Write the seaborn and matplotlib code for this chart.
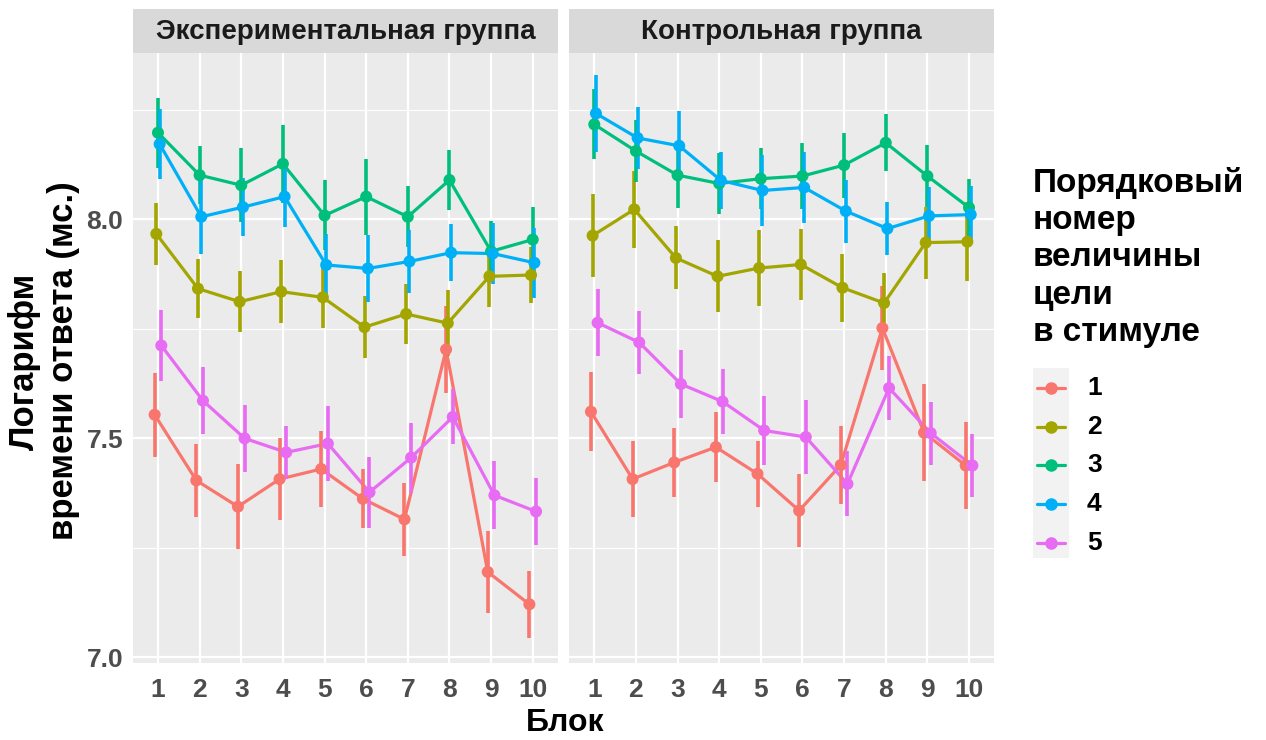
import matplotlib
matplotlib.use("Agg")
import matplotlib.pyplot as plt
from matplotlib.lines import Line2D
from matplotlib.patches import Rectangle
import pandas as pd
import seaborn as sns

# ---- data ---------------------------------------------------------------
blocks = [1, 2, 3, 4, 5, 6, 7, 8, 9, 10]
levels = ["1", "2", "3", "4", "5"]
panels = ["Экспериментальная группа", "Контрольная группа"]
palette = ["#F8766D", "#A3A500", "#00BF7D", "#00B0F6", "#E76BF3"]

# experimental group: mean log RT per block, one list per target rank
exp_mean_1 = [7.554, 7.404, 7.344, 7.407, 7.430, 7.362, 7.315, 7.703, 7.195, 7.121]
exp_mean_2 = [7.967, 7.842, 7.812, 7.835, 7.822, 7.754, 7.784, 7.763, 7.870, 7.873]
exp_mean_3 = [8.198, 8.101, 8.078, 8.127, 8.009, 8.052, 8.006, 8.090, 7.927, 7.954]
exp_mean_4 = [8.172, 8.006, 8.028, 8.052, 7.896, 7.888, 7.904, 7.924, 7.922, 7.901]
exp_mean_5 = [7.712, 7.586, 7.500, 7.468, 7.488, 7.377, 7.456, 7.549, 7.370, 7.333]

exp_err_1 = [0.096, 0.083, 0.097, 0.093, 0.087, 0.067, 0.083, 0.100, 0.093, 0.076]
exp_err_2 = [0.070, 0.068, 0.070, 0.072, 0.070, 0.070, 0.068, 0.076, 0.070, 0.063]
exp_err_3 = [0.080, 0.066, 0.085, 0.089, 0.080, 0.087, 0.070, 0.068, 0.070, 0.075]
exp_err_4 = [0.080, 0.086, 0.066, 0.070, 0.070, 0.076, 0.072, 0.065, 0.070, 0.080]
exp_err_5 = [0.080, 0.076, 0.076, 0.061, 0.086, 0.081, 0.080, 0.063, 0.078, 0.076]

# control group
ctl_mean_1 = [7.561, 7.407, 7.445, 7.480, 7.419, 7.335, 7.439, 7.752, 7.513, 7.438]
ctl_mean_2 = [7.963, 8.023, 7.912, 7.870, 7.889, 7.897, 7.844, 7.809, 7.947, 7.949]
ctl_mean_3 = [8.217, 8.156, 8.101, 8.082, 8.093, 8.099, 8.124, 8.175, 8.099, 8.027]
ctl_mean_4 = [8.242, 8.186, 8.168, 8.089, 8.066, 8.073, 8.019, 7.979, 8.008, 8.011]
ctl_mean_5 = [7.764, 7.719, 7.624, 7.584, 7.518, 7.503, 7.396, 7.615, 7.512, 7.438]

ctl_err_1 = [0.091, 0.086, 0.078, 0.080, 0.076, 0.084, 0.089, 0.096, 0.110, 0.100]
ctl_err_2 = [0.094, 0.088, 0.072, 0.082, 0.087, 0.080, 0.078, 0.068, 0.082, 0.090]
ctl_err_3 = [0.080, 0.070, 0.075, 0.070, 0.070, 0.075, 0.074, 0.065, 0.070, 0.065]
ctl_err_4 = [0.087, 0.070, 0.080, 0.065, 0.080, 0.082, 0.072, 0.060, 0.067, 0.065]
ctl_err_5 = [0.076, 0.072, 0.077, 0.075, 0.078, 0.084, 0.074, 0.072, 0.072, 0.072]

x_title = "Блок"
y_title = "Логарифм\nвремени ответа (мс.)"
legend_title = "Порядковый\nномер\nвеличины\nцели\nв стимуле"
y_ticks = [7.0, 7.5, 8.0]
y_minor = [7.25, 7.75, 8.25]

# ---- long table -----------------------------------------------------------
series = {
    panels[0]: [(exp_mean_1, exp_err_1), (exp_mean_2, exp_err_2), (exp_mean_3, exp_err_3),
                (exp_mean_4, exp_err_4), (exp_mean_5, exp_err_5)],
    panels[1]: [(ctl_mean_1, ctl_err_1), (ctl_mean_2, ctl_err_2), (ctl_mean_3, ctl_err_3),
                (ctl_mean_4, ctl_err_4), (ctl_mean_5, ctl_err_5)],
}
dodge = {lv: (i - 2) * 0.04 for i, lv in enumerate(levels)}
rows = []
for panel, groups in series.items():
    for lv, (means, errs) in zip(levels, groups):
        for b, m, e in zip(blocks, means, errs):
            rows.append({"panel": panel, "level": lv, "block": b,
                         "x": b + dodge[lv], "mean": m, "err": e})
df = pd.DataFrame(rows)

# ---- style ----------------------------------------------------------------
sns.set_theme(style="darkgrid", rc={
    "axes.facecolor": "#EBEBEB",
    "grid.color": "white",
})
plt.rcParams["font.family"] = ["Liberation Sans", "DejaVu Sans"]
plt.rcParams["font.weight"] = "bold"

W, H = 1266, 740
fig = plt.figure(figsize=(W / 100, H / 100), dpi=100)
fig.patch.set_facecolor("white")


def fx(px):
    return px / W


def fy(py):
    return 1 - py / H


panel_top, panel_bot = 53, 663
panel_w = 424.7
lefts = [133, 569.3]
color_map = dict(zip(levels, palette))

for i, (panel, left) in enumerate(zip(panels, lefts)):
    ax = fig.add_axes([fx(left), fy(panel_bot), panel_w / W, (panel_bot - panel_top) / H])
    sub = df[df["panel"] == panel]

    sns.lineplot(data=sub, x="x", y="mean", hue="level", palette=palette,
                 hue_order=levels, estimator=None, sort=True, linewidth=2.3,
                 legend=False, ax=ax, zorder=3)
    for lv in levels:
        g = sub[sub["level"] == lv]
        ax.vlines(g["x"], g["mean"] - g["err"], g["mean"] + g["err"],
                  color=color_map[lv], linewidth=2.6, zorder=4)
    sns.scatterplot(data=sub, x="x", y="mean", hue="level", palette=palette,
                    hue_order=levels, s=75, edgecolor="none", legend=False,
                    ax=ax, zorder=5)

    ax.set_xlim(0.4, 10.6)
    ax.set_ylim(6.987, 8.380)
    ax.set_xticks(blocks)
    ax.set_xticklabels([str(b) for b in blocks])
    ax.set_yticks(y_ticks)
    ax.set_yticks(y_minor, minor=True)
    ax.grid(which="major", color="white", linewidth=1.6)
    ax.grid(which="minor", axis="y", color="white", linewidth=0.8)
    ax.set_xlabel("")
    ax.set_ylabel("")
    for s in ax.spines.values():
        s.set_visible(False)
    ax.tick_params(axis="both", which="major", length=4, width=1.1, color="#333333",
                   labelcolor="#4D4D4D", labelsize=19, pad=3)
    ax.tick_params(axis="x", which="major", pad=7)
    ax.tick_params(which="minor", length=0)
    for lab in ax.get_xticklabels() + ax.get_yticklabels():
        lab.set_fontweight("bold")
    if i == 0:
        ax.set_yticklabels([f"{v:.1f}" for v in y_ticks])
    else:
        ax.tick_params(axis="y", labelleft=False, length=0)

    # facet strip
    sax = fig.add_axes([fx(left), fy(panel_top), panel_w / W, 44 / H])
    sax.set_facecolor("#D9D9D9")
    sax.set_xticks([])
    sax.set_yticks([])
    sax.grid(False)
    for s in sax.spines.values():
        s.set_visible(False)
    sax.text(0.5, 0.47, panel, ha="center", va="center", fontsize=20,
             fontweight="bold", color="#1A1A1A", transform=sax.transAxes)

# axis titles
fig.text(fx(565), fy(723), x_title, ha="center", va="center", fontsize=23,
         fontweight="bold", color="black")
fig.text(fx(44), fy(361), y_title, ha="center", va="center", rotation=90,
         fontsize=25, fontweight="bold", color="black", linespacing=1.22,
         multialignment="center")

# legend
fig.text(fx(1033), fy(167), legend_title, ha="left", va="top", fontsize=24,
         fontweight="bold", color="black", linespacing=1.26)
fig.patches.append(Rectangle((fx(1033), fy(558)), 36 / W, 190 / H,
                             transform=fig.transFigure, facecolor="#F2F2F2",
                             edgecolor="none"))
key_y = [388, 427, 465, 504, 543]
for lv, c, ky in zip(levels, palette, key_y):
    fig.add_artist(Line2D([fx(1037), fx(1065)], [fy(ky), fy(ky)], color=c,
                          linewidth=2.3, transform=fig.transFigure))
    fig.add_artist(Line2D([fx(1051)], [fy(ky)], marker="o", markersize=8,
                          color=c, linestyle="none", transform=fig.transFigure))
    fig.text(fx(1087), fy(ky), lv, ha="left", va="center", fontsize=19,
             fontweight="bold", color="black")

fig.savefig("out.png", dpi=100)
